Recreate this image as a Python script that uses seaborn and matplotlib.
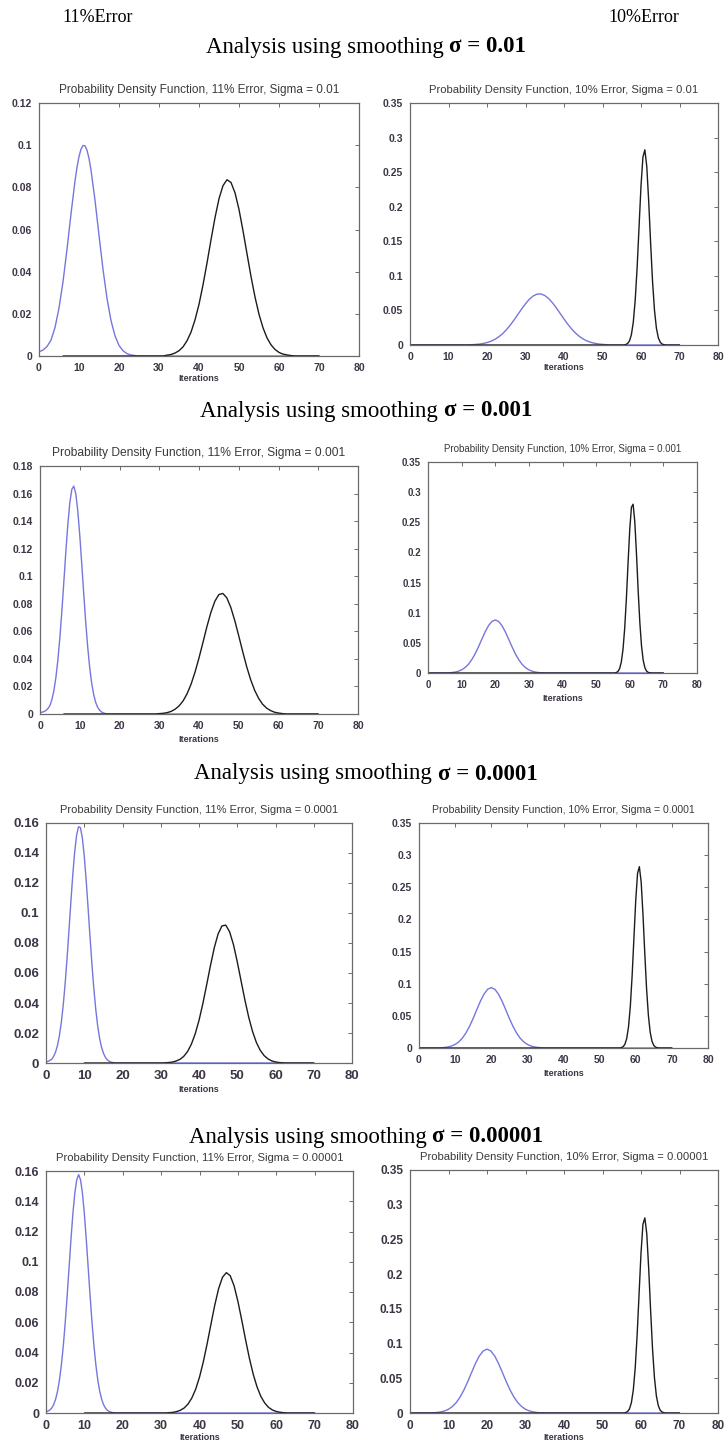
import matplotlib
matplotlib.use("Agg")
import matplotlib.pyplot as plt
from matplotlib.offsetbox import TextArea, HPacker, AnnotationBbox
import seaborn as sns

# ---- data ---------------------------------------------------------------
X_TICKS = [0, 10, 20, 30, 40, 50, 60, 70, 80]
Y_TICKS_012 = [0, 0.02, 0.04, 0.06, 0.08, 0.1, 0.12]
Y_TICKS_016 = [0, 0.02, 0.04, 0.06, 0.08, 0.1, 0.12, 0.14, 0.16]
Y_TICKS_018 = [0, 0.02, 0.04, 0.06, 0.08, 0.1, 0.12, 0.14, 0.16, 0.18]
Y_TICKS_035 = [0, 0.05, 0.1, 0.15, 0.2, 0.25, 0.3, 0.35]

SIGMAS = ["0.01", "0.001", "0.0001", "0.00001"]

# sigma = 0.01, 11% error
A_BLUE_X = [0, 1, 2, 3, 4, 5, 6, 7, 8, 9, 9.5, 10, 10.5, 11, 11.5, 12, 12.5, 13, 14,
            15, 16, 17, 18, 19, 20, 21, 22, 23, 24, 25, 70]
A_BLUE_Y = [0.0020, 0.0028, 0.0045, 0.0075, 0.0135, 0.0227, 0.0352, 0.0506, 0.0674,
            0.0830, 0.0895, 0.0946, 0.0981, 0.0998, 0.0997, 0.0976, 0.0937, 0.0882,
            0.0739, 0.0573, 0.0411, 0.0273, 0.0168, 0.0096, 0.0050, 0.0025, 0.0011,
            0.0005, 0.0002, 0, 0]
A_BLACK_X = [6] + list(range(31, 65)) + [70]
A_BLACK_Y = [0, 0, 0.0004, 0.0007, 0.0014, 0.0025, 0.0043, 0.0072, 0.0113, 0.0171,
             0.0245, 0.0337, 0.0441, 0.0551, 0.0656, 0.0746, 0.0808, 0.0836, 0.0823,
             0.0774, 0.0695, 0.0594, 0.0485, 0.0377, 0.0280, 0.0198, 0.0134, 0.0086,
             0.0053, 0.0031, 0.0017, 0.0009, 0.0005, 0.0002, 0, 0]

# sigma = 0.01, 10% error
B_BLUE_X = [0] + list(range(15, 54)) + [70]
B_BLUE_Y = [0, 0, 0.0004, 0.0008, 0.0013, 0.0022, 0.0035, 0.0054, 0.0080, 0.0116,
            0.0161, 0.0218, 0.0285, 0.0360, 0.0441, 0.0521, 0.0597, 0.0662, 0.0709,
            0.0736, 0.0738, 0.0716, 0.0673, 0.0611, 0.0537, 0.0457, 0.0376, 0.0299,
            0.0231, 0.0172, 0.0124, 0.0086, 0.0058, 0.0038, 0.0024, 0.0015, 0.0009,
            0.0005, 0.0002, 0, 0]
PEAK_X = [0, 55.5, 56, 56.5, 57, 57.5, 58, 58.5, 59, 59.5, 60, 60.5, 61, 61.5, 62,
          62.5, 63, 63.5, 64, 64.5, 65, 65.5, 66, 66.5, 70]
B_BLACK_Y = [0, 0, 0.0006, 0.0020, 0.0058, 0.0148, 0.0331, 0.0651, 0.1127, 0.1716,
             0.2301, 0.2717, 0.2823, 0.2582, 0.2078, 0.1473, 0.0919, 0.0505, 0.0244,
             0.0104, 0.0039, 0.0013, 0.0004, 0, 0]

# sigma = 0.001, 11% error
C_BLUE_X = [i / 2 for i in range(0, 36)] + [70]
C_BLUE_Y = [0.0010, 0.0013, 0.0018, 0.0025, 0.0040, 0.0062, 0.0105, 0.0171, 0.0265,
            0.0393, 0.0555, 0.0747, 0.0960, 0.1177, 0.1375, 0.1533, 0.1630, 0.1654,
            0.1600, 0.1476, 0.1299, 0.1091, 0.0874, 0.0667, 0.0486, 0.0338, 0.0224,
            0.0142, 0.0085, 0.0049, 0.0027, 0.0014, 0.0007, 0.0003, 0.0001, 0, 0]
C_BLACK_X = [6] + list(range(29, 63)) + [70]
C_BLACK_Y = [0, 0, 0.0003, 0.0005, 0.0010, 0.0019, 0.0035, 0.0059, 0.0095, 0.0147,
             0.0216, 0.0304, 0.0407, 0.0520, 0.0635, 0.0738, 0.0819, 0.0867, 0.0875,
             0.0843, 0.0774, 0.0678, 0.0567, 0.0452, 0.0343, 0.0249, 0.0172, 0.0114,
             0.0071, 0.0043, 0.0025, 0.0013, 0.0007, 0.0003, 0, 0]

# sigma = 0.001, 10% error
WIDE_X = [0] + list(range(4, 37)) + [70]
D_BLUE_Y = [0, 0, 0.0001, 0.0003, 0.0007, 0.0015, 0.0029, 0.0052, 0.0089, 0.0143,
            0.0219, 0.0317, 0.0433, 0.0559, 0.0682, 0.0786, 0.0855, 0.0880, 0.0855,
            0.0786, 0.0682, 0.0559, 0.0433, 0.0317, 0.0219, 0.0143, 0.0089, 0.0052,
            0.0029, 0.0015, 0.0007, 0.0003, 0.0001, 0, 0]
D_BLACK_Y = [0, 0, 0.0008, 0.0026, 0.0075, 0.0185, 0.0396, 0.0744, 0.1237, 0.1826,
             0.2383, 0.2750, 0.2800, 0.2510, 0.1977, 0.1370, 0.0836, 0.0448, 0.0211,
             0.0088, 0.0032, 0.0010, 0.0003, 0, 0]

# sigma = 0.0001, 11% error
NARROW_X = [i / 2 for i in range(0, 38)] + [70]
E_BLUE_Y = [0.0008, 0.0011, 0.0017, 0.0025, 0.0044, 0.0073, 0.0117, 0.0182, 0.0270,
            0.0385, 0.0528, 0.0696, 0.0882, 0.1073, 0.1254, 0.1408, 0.1519, 0.1575,
            0.1569, 0.1501, 0.1380, 0.1219, 0.1035, 0.0844, 0.0661, 0.0498, 0.0360,
            0.0250, 0.0167, 0.0107, 0.0066, 0.0039, 0.0022, 0.0012, 0.0006, 0.0003,
            0.0001, 0, 0]
E_BLACK_X = [10] + list(range(30, 64)) + [70]
E_BLACK_Y = [0, 0, 0.0001, 0.0003, 0.0006, 0.0013, 0.0024, 0.0044, 0.0076, 0.0125,
             0.0194, 0.0284, 0.0395, 0.0521, 0.0650, 0.0769, 0.0861, 0.0914, 0.0919,
             0.0875, 0.0790, 0.0675, 0.0547, 0.0420, 0.0305, 0.0210, 0.0137, 0.0085,
             0.0050, 0.0028, 0.0014, 0.0007, 0.0003, 0.0001, 0, 0]

# sigma = 0.0001, 10% error
F_BLUE_Y = [0, 0, 0.0001, 0.0003, 0.0008, 0.0016, 0.0031, 0.0056, 0.0095, 0.0153,
            0.0234, 0.0339, 0.0462, 0.0597, 0.0728, 0.0839, 0.0913, 0.0940, 0.0913,
            0.0839, 0.0728, 0.0597, 0.0462, 0.0339, 0.0234, 0.0153, 0.0095, 0.0056,
            0.0031, 0.0016, 0.0008, 0.0003, 0.0001, 0, 0]
F_BLACK_Y = [0, 0, 0.0006, 0.0020, 0.0058, 0.0148, 0.0331, 0.0651, 0.1127, 0.1716,
             0.2301, 0.2717, 0.2820, 0.2582, 0.2078, 0.1473, 0.0919, 0.0505, 0.0244,
             0.0104, 0.0039, 0.0013, 0.0004, 0, 0]

# sigma = 0.00001, 11% error
G_BLUE_Y = [0.0009, 0.0013, 0.0020, 0.0033, 0.0056, 0.0091, 0.0143, 0.0217, 0.0316,
            0.0442, 0.0595, 0.0770, 0.0958, 0.1145, 0.1316, 0.1452, 0.1541, 0.1576,
            0.1542, 0.1453, 0.1316, 0.1145, 0.0959, 0.0771, 0.0596, 0.0443, 0.0316,
            0.0217, 0.0143, 0.0091, 0.0055, 0.0032, 0.0018, 0.0010, 0.0005, 0.0002,
            0.0001, 0, 0]
G_BLACK_X = [10] + list(range(31, 64)) + [70]
G_BLACK_Y = [0, 0, 0.0002, 0.0004, 0.0009, 0.0018, 0.0033, 0.0059, 0.0099, 0.0157,
             0.0237, 0.0339, 0.0459, 0.0589, 0.0716, 0.0824, 0.0898, 0.0928, 0.0908,
             0.0842, 0.0739, 0.0615, 0.0485, 0.0362, 0.0256, 0.0172, 0.0109, 0.0066,
             0.0037, 0.0020, 0.0010, 0.0005, 0.0002, 0, 0]

# sigma = 0.00001, 10% error
H_BLUE_Y = [0, 0, 0.0001, 0.0003, 0.0007, 0.0016, 0.0030, 0.0054, 0.0093, 0.0149,
            0.0229, 0.0331, 0.0452, 0.0584, 0.0713, 0.0821, 0.0893, 0.0920, 0.0893,
            0.0821, 0.0713, 0.0584, 0.0452, 0.0331, 0.0229, 0.0149, 0.0093, 0.0054,
            0.0030, 0.0016, 0.0007, 0.0003, 0.0001, 0, 0]
H_BLACK_Y = [0, 0, 0.0006, 0.0020, 0.0058, 0.0148, 0.0331, 0.0651, 0.1127, 0.1716,
             0.2301, 0.2717, 0.2810, 0.2582, 0.2078, 0.1473, 0.0919, 0.0505, 0.0244,
             0.0104, 0.0039, 0.0013, 0.0004, 0, 0]

# ---- style --------------------------------------------------------------
W, H = 726, 1445
BLUE = "#7676dc"
BLACK = "#1c1c1c"
TXT = "#3d3545"

sns.set_style("white")
plt.rcParams["font.family"] = ["Liberation Sans", "DejaVu Sans"]

fig = plt.figure(figsize=(W / 100, H / 100), dpi=100)

# left, right, top, bottom of each axes box in pixels
panels = [
    dict(box=(39, 359, 103, 356), blue=(A_BLUE_X, A_BLUE_Y), black=(A_BLACK_X, A_BLACK_Y),
         err="11", sig=SIGMAS[0], yt=Y_TICKS_012, fs=7.5, tw=279, lp=1),
    dict(box=(410, 718, 103, 345), blue=(B_BLUE_X, B_BLUE_Y), black=(PEAK_X, B_BLACK_Y),
         err="10", sig=SIGMAS[0], yt=Y_TICKS_035, fs=7.5, tw=268, lp=1),
    dict(box=(40, 358, 466, 714), blue=(C_BLUE_X, C_BLUE_Y), black=(C_BLACK_X, C_BLACK_Y),
         err="11", sig=SIGMAS[1], yt=Y_TICKS_018, fs=7.5, tw=293, lp=3),
    dict(box=(428, 697, 462, 673), blue=(WIDE_X, D_BLUE_Y), black=(PEAK_X, D_BLACK_Y),
         err="10", sig=SIGMAS[1], yt=Y_TICKS_035, fs=7, tw=238, lp=3),
    dict(box=(46, 352, 823, 1063), blue=(NARROW_X, E_BLUE_Y), black=(E_BLACK_X, E_BLACK_Y),
         err="11", sig=SIGMAS[2], yt=Y_TICKS_016, fs=9.5, tw=278, lp=2),
    dict(box=(419, 708, 823, 1048), blue=(WIDE_X, F_BLUE_Y), black=(PEAK_X, F_BLACK_Y),
         err="10", sig=SIGMAS[2], yt=Y_TICKS_035, fs=7.5, tw=263, lp=3),
    dict(box=(46, 353, 1171, 1413), blue=(NARROW_X, G_BLUE_Y), black=(G_BLACK_X, G_BLACK_Y),
         err="11", sig=SIGMAS[3], yt=Y_TICKS_016, fs=9, tw=287, lp=1),
    dict(box=(410, 718, 1170, 1413), blue=(WIDE_X, H_BLUE_Y), black=(PEAK_X, H_BLACK_Y),
         err="10", sig=SIGMAS[3], yt=Y_TICKS_035, fs=8.5, tw=287, lp=1),
]

titles = []
for p in panels:
    l, r, t, b = p["box"]
    ax = fig.add_axes([l / W, 1 - b / H, (r - l) / W, (b - t) / H])
    sns.lineplot(x=p["blue"][0], y=p["blue"][1], ax=ax, color=BLUE, lw=1.0,
                 estimator=None, sort=False)
    sns.lineplot(x=p["black"][0], y=p["black"][1], ax=ax, color=BLACK, lw=1.0,
                 estimator=None, sort=False)
    ax.set_xlim(0, 80)
    ax.set_ylim(0, p["yt"][-1])
    ax.set_xticks(X_TICKS)
    ax.set_xticklabels([f"{v:g}" for v in X_TICKS], fontweight="bold")
    ax.set_yticks(p["yt"])
    ax.set_yticklabels([f"{v:g}" for v in p["yt"]], fontweight="bold")
    ax.tick_params(direction="in", top=True, right=True, length=3, width=0.6,
                   color="#555555", labelsize=p["fs"], labelcolor=TXT, pad=5)
    for s in ax.spines.values():
        s.set_color("#6a6a6a")
        s.set_linewidth(0.9)
    ax.set_xlabel("Iterations", fontsize=6.5, fontweight="bold", color=TXT, labelpad=p["lp"])
    ax.set_ylabel("")
    tt = ax.set_title(f"Probability Density Function, {p['err']}% Error, Sigma = {p['sig']}",
                      fontsize=7, color="#3a3a3a", pad=7)
    titles.append((tt, p["tw"]))

# column labels
serif = dict(family=["Liberation Serif", "DejaVu Serif"], color="black")
fig.text(98 / W, 1 - 17 / H, "11%Error", ha="center", va="center", fontsize=13, **serif)
fig.text(644 / W, 1 - 17 / H, "10%Error", ha="center", va="center", fontsize=13, **serif)

# section headers: plain text + bold sigma part
header_y = [47, 411, 774, 1137]
for sig, yy in zip(SIGMAS, header_y):
    box = HPacker(children=[
        TextArea("Analysis using smoothing ", textprops=dict(fontsize=16.5, **serif)),
        TextArea(f"σ = {sig}", textprops=dict(fontsize=16.5, fontweight="bold", **serif)),
    ], pad=0, sep=0, align="baseline")
    ab = AnnotationBbox(box, (366, H - yy), xycoords="figure pixels", frameon=False,
                        box_alignment=(0.5, 0.5))
    fig.add_artist(ab)

# make the small panel titles as wide as in the reference
fig.canvas.draw()
rend = fig.canvas.get_renderer()
for tt, target in titles:
    w = tt.get_window_extent(rend).width
    tt.set_fontsize(tt.get_fontsize() * target / w)

fig.savefig("out.png", dpi=100, facecolor="white")
